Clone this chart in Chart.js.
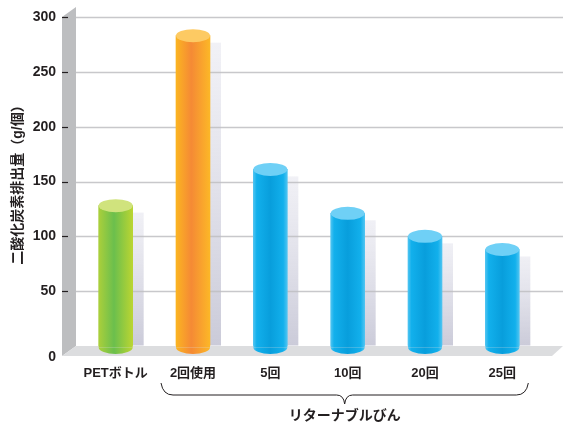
<!DOCTYPE html>
<html lang="ja">
<head>
<meta charset="UTF-8">
<title>二酸化炭素排出量</title>
<script src="https://cdn.jsdelivr.net/npm/chart.js"></script>
<style>
  body { margin: 0; background: #fff; }
  #wrap { width: 563px; height: 424px; position: relative; }
</style>
</head>
<body>
<div id="wrap"><canvas id="co2Chart"></canvas></div>
<script>
// 容器別の二酸化炭素排出量（g/個）
const categories = ['PETボトル', '2回使用', '5回', '10回', '20回', '25回'];
const co2Values = [128, 283, 161, 121, 100, 88];
const yTicks = [0, 50, 100, 150, 200, 250, 300];
const groupLabel = 'リターナブルびん';

const FONT = "'Liberation Sans', 'Noto Sans CJK JP', sans-serif";
const INK = '#231f20';

// 円柱の色：[端, 中央, 端, 上面]
const barColors = [
  ['#aacf3b', '#6bbf4d', '#bad532', '#d0e37d'],
  ['#fbb421', '#f58a35', '#fcb727', '#fdca63'],
  ['#4fc4f1', '#089edc', '#4fc4f1', '#6fd0f6'],
  ['#4fc4f1', '#089edc', '#4fc4f1', '#6fd0f6'],
  ['#4fc4f1', '#089edc', '#4fc4f1', '#6fd0f6'],
  ['#4fc4f1', '#089edc', '#4fc4f1', '#6fd0f6']
];

const DEPTH_X = 14, DEPTH_Y = 10;   // 床と壁の奥行き
const CAP_RY = 6.5;                 // 円柱上面の楕円の縦半径

function bodyGradient(c, i, x, w) {
  const col = barColors[i];
  const g = c.createLinearGradient(x - w / 2, 0, x + w / 2, 0);
  g.addColorStop(0, col[0]);
  if (i >= 2) {
    g.addColorStop(0.1, '#12b0ec');
    g.addColorStop(0.5, col[1]);
    g.addColorStop(0.88, '#12b0ec');
  } else {
    g.addColorStop(0.45, col[1]);
  }
  g.addColorStop(1, col[2]);
  return g;
}

const stage = {
  id: 'stage',
  beforeDatasetsDraw(chart) {
    const c = chart.ctx;
    const y = chart.scales.y;
    const wallX = 62;
    const top = y.getPixelForValue(300);
    const base = y.getPixelForValue(0);
    const W = chart.width;
    c.save();
    // 左の壁
    c.fillStyle = '#bdbec0';
    c.beginPath();
    c.moveTo(wallX, top);
    c.lineTo(wallX + DEPTH_X, top - DEPTH_Y);
    c.lineTo(wallX + DEPTH_X, base);
    c.lineTo(wallX, base + DEPTH_Y);
    c.closePath();
    c.fill();
    // 床
    c.fillStyle = '#dcdddf';
    c.beginPath();
    c.moveTo(wallX, base + DEPTH_Y);
    c.lineTo(wallX + DEPTH_X, base);
    c.lineTo(W, base);
    c.lineTo(W - DEPTH_X + 3, base + DEPTH_Y);
    c.closePath();
    c.fill();
    // 円柱の影
    const meta = chart.getDatasetMeta(0);
    meta.data.forEach(bar => {
      const g = c.createLinearGradient(0, bar.y, 0, bar.base);
      g.addColorStop(0, 'rgba(236,236,243,0.7)');
      g.addColorStop(1, '#cbcbd9');
      c.fillStyle = g;
      c.fillRect(bar.x - bar.width / 2 + 11, bar.y + 7, bar.width, bar.base - bar.y - 7);
    });
    // 目盛線と目盛
    yTicks.forEach(v => {
      if (v === 0) return;
      const py = Math.round(y.getPixelForValue(v)) + 0.5;
      c.strokeStyle = 'rgba(190,190,194,0.85)';
      c.lineWidth = 1.5;
      c.beginPath();
      c.moveTo(wallX + DEPTH_X, py);
      c.lineTo(W, py);
      c.stroke();
      c.strokeStyle = INK;
      c.lineWidth = 1.2;
      c.beginPath();
      c.moveTo(wallX, py);
      c.lineTo(wallX + 6, py);
      c.stroke();
    });
    c.restore();
  },
  afterDatasetsDraw(chart) {
    const c = chart.ctx;
    const meta = chart.getDatasetMeta(0);
    c.save();
    meta.data.forEach((bar, i) => {
      const w = bar.width, x = bar.x;
      // 底面
      c.fillStyle = bodyGradient(c, i, x, w);
      c.fillRect(x - w / 2, bar.base - 0.5, w, 2.5);
      c.beginPath();
      c.ellipse(x, bar.base + 2, w / 2, CAP_RY, 0, 0, Math.PI);
      c.fill();
      // 上面
      c.fillStyle = barColors[i][3];
      c.beginPath();
      c.ellipse(x, bar.y, w / 2, CAP_RY, 0, 0, Math.PI * 2);
      c.fill();
    });
    c.restore();
  },
  afterDraw(chart) {
    const c = chart.ctx;
    const x = chart.scales.x;
    const y = chart.scales.y;
    const base = y.getPixelForValue(0);
    c.save();
    // 0 の目盛ラベルは床の手前に置く
    c.fillStyle = INK;
    c.font = 'bold 14px ' + FONT;
    c.textAlign = 'right';
    c.textBaseline = 'middle';
    c.fillText('0', 56, base + 11);
    // リターナブルびんの括弧
    const x0 = x.getPixelForValue(1) - 32;
    const x1 = x.getPixelForValue(5) + 26;
    const mid = (x0 + x1) / 2;
    const yt = 383, yl = 395, tip = 404;
    c.strokeStyle = INK;
    c.lineWidth = 1;
    c.beginPath();
    c.moveTo(x0, yt);
    c.quadraticCurveTo(x0 + 2, yl, x0 + 12, yl);
    c.lineTo(mid - 8, yl);
    c.quadraticCurveTo(mid - 1, yl, mid, tip);
    c.quadraticCurveTo(mid + 1, yl, mid + 8, yl);
    c.lineTo(x1 - 12, yl);
    c.quadraticCurveTo(x1 - 2, yl, x1, yt);
    c.stroke();
    c.textAlign = 'center';
    c.fillText(groupLabel, mid, 416);
    c.restore();
  }
};

new Chart(document.getElementById('co2Chart'), {
  type: 'bar',
  data: {
    labels: categories,
    datasets: [{
      data: co2Values,
      barThickness: 34,
      borderWidth: 0,
      backgroundColor: (ctx) => {
        const chart = ctx.chart;
        if (!chart.chartArea || ctx.dataIndex === undefined) return barColors[0][1];
        const px = chart.scales.x.getPixelForValue(ctx.dataIndex);
        return bodyGradient(chart.ctx, ctx.dataIndex, px, 34);
      }
    }]
  },
  options: {
    responsive: true,
    maintainAspectRatio: false,
    animation: false,
    layout: { padding: { top: 17, right: 22, left: 0, bottom: 0 } },
    plugins: { legend: { display: false }, tooltip: { enabled: false } },
    scales: {
      x: {
        grid: { display: false },
        border: { display: false },
        ticks: {
          color: INK,
          padding: 12,
          font: { family: FONT, size: 13, weight: 'bold' }
        },
        afterFit: (s) => { s.height = 78; }
      },
      y: {
        min: 0,
        max: 300,
        // 目盛線は壁に合わせて自前で描くので、ここは見えない目盛でラベル位置だけ決める
        grid: {
          drawOnChartArea: false,
          drawTicks: true,
          tickLength: 21,
          color: 'rgba(0,0,0,0)'
        },
        border: { display: false },
        afterBuildTicks: (s) => { s.ticks = yTicks.map(v => ({ value: v })); },
        ticks: {
          color: INK,
          padding: 0,
          font: { family: FONT, size: 14, weight: 'bold' },
          callback: (v) => (v === 0 ? '' : v)
        },
        title: {
          display: true,
          text: '二酸化炭素排出量（g/個）',
          color: INK,
          padding: { top: 10, bottom: 0 },
          font: { family: FONT, size: 14, weight: 'bold' }
        },
        afterFit: (s) => { s.width = 77; }
      }
    }
  },
  plugins: [stage]
});
</script>
</body>
</html>
